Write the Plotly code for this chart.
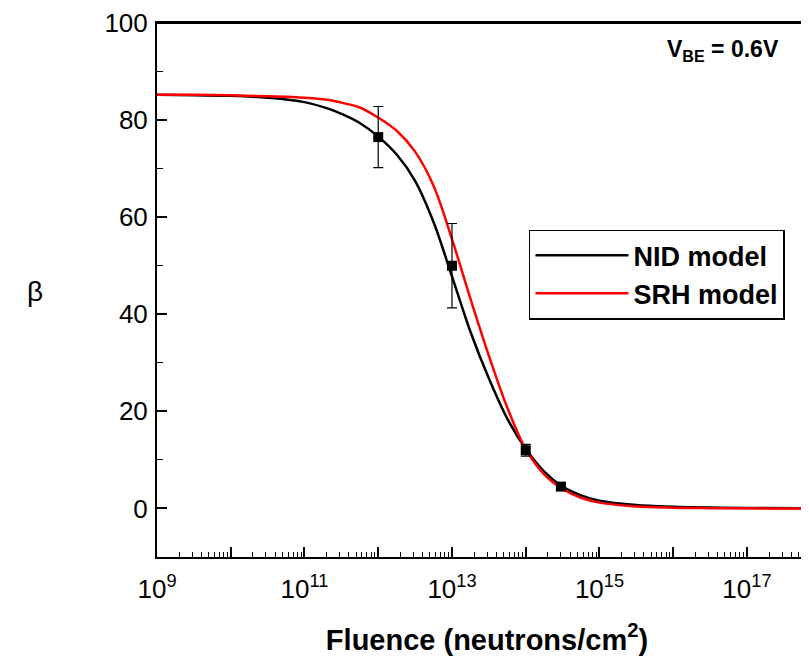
import plotly.graph_objects as go

# Model curves
nid_fluence = [1e9, 3.16e9, 1e10, 3.16e10, 1e11, 2.24e11, 3.16e11, 5.62e11, 1e12, 1.78e12,
               3.16e12, 5.62e12, 1e13, 1.78e13, 3.16e13, 5.62e13, 1e14, 1.78e14, 3.16e14,
               5.62e14, 1e15, 3.16e15, 1e16, 3.16e16, 1e17, 8.9e17]
nid_beta = [85.2, 85.1, 85.0, 84.6, 83.7, 82.2, 81.3, 79.4, 76.6, 72.9,
            67.5, 59.0, 47.8, 36.4, 26.8, 18.5, 12.3, 7.6, 4.5,
            2.7, 1.6, 0.7, 0.35, 0.18, 0.1, 0.05]

srh_fluence = [1e9, 3.16e9, 1e10, 3.16e10, 1e11, 2.24e11, 3.16e11, 5.62e11, 1e12, 1.78e12,
               3.16e12, 5.62e12, 1e13, 1.78e13, 3.16e13, 5.62e13, 1e14, 1.78e14, 3.16e14,
               5.62e14, 1e15, 3.16e15, 1e16, 3.16e16, 1e17, 8.9e17]
srh_beta = [85.2, 85.2, 85.1, 84.9, 84.6, 84.1, 83.6, 82.6, 80.5, 77.8,
            73.5, 66.5, 55.5, 43.2, 31.5, 20.8, 12.2, 7.0, 4.0,
            2.2, 1.2, 0.4, 0.15, 0.06, 0.02, 0.0]

# Measured points
meas_fluence = [1e12, 1e13, 1e14, 3e14]
meas_beta = [76.5, 50.0, 12.0, 4.5]
meas_err = [6.3, 8.7, 1.2, 0.5]

# Axis ticks
decades = list(range(9, 19))
major_vals = [10.0 ** d for d in decades]
major_text = [f"10<sup>{d}</sup>" if d % 2 == 1 else "" for d in decades]
minor_vals = [m * 10.0 ** d for d in decades for m in range(2, 10)]
y_ticks = [0, 20, 40, 60, 80, 100]

fig = go.Figure()
fig.add_trace(go.Scatter(x=nid_fluence, y=nid_beta, mode="lines", name="<b>NID model</b>",
                         line=dict(color="black", width=2.5, shape="spline")))
fig.add_trace(go.Scatter(x=srh_fluence, y=srh_beta, mode="lines", name="<b>SRH model</b>",
                         line=dict(color="#ff0000", width=2.5, shape="spline")))
fig.add_trace(go.Scatter(x=meas_fluence, y=meas_beta, mode="markers", showlegend=False,
                         marker=dict(symbol="square", size=10, color="black"),
                         error_y=dict(type="data", array=meas_err, color="black",
                                      thickness=1.2, width=5)))

fig.update_layout(
    width=809, height=663,
    margin=dict(l=149, r=0, t=12, b=114),
    plot_bgcolor="white", paper_bgcolor="white",
    font=dict(family="Liberation Sans, Arial, sans-serif", size=26, color="black"),
    xaxis=dict(type="log", range=[9, 17.95], tickmode="array", tickvals=major_vals,
               ticktext=major_text, ticks="inside", ticklen=10, tickwidth=1.5,
               tickcolor="black", showline=True, linewidth=2, linecolor="black",
               mirror=True, showgrid=False, zeroline=False, ticklabelstandoff=8,
               ticklabeloverflow="allow",
               minor=dict(tickvals=minor_vals, ticks="inside", ticklen=5, tickwidth=1,
                          tickcolor="black", showgrid=False),
               title=dict(text="<b>Fluence (neutrons/cm<sup>2</sup>)</b>",
                          font=dict(size=29), standoff=26)),
    yaxis=dict(range=[-10, 100], tickmode="array", tickvals=y_ticks, ticks="inside",
               ticklen=10, tickwidth=1.5, tickcolor="black", showline=True, linewidth=2,
               linecolor="black", mirror=False, showgrid=False, zeroline=False,
               ticklabelstandoff=2, ticklabeloverflow="allow",
               minor=dict(dtick=10, ticks="inside", ticklen=6, tickwidth=1,
                          tickcolor="black", showgrid=False)),
    legend=dict(x=0.5636, y=0.613, xanchor="left", yanchor="top", bgcolor="white",
                bordercolor="black", borderwidth=1.5, font=dict(size=27),
                itemwidth=93, tracegroupgap=0),
    showlegend=True,
)

# top frame line of the plot area
fig.add_shape(type="line", xref="paper", yref="paper", x0=0, x1=1, y0=1, y1=1,
              line=dict(color="black", width=2), layer="above")

fig.add_annotation(text="β", xref="paper", yref="paper", x=-0.185, y=0.497,
                   showarrow=False, font=dict(size=28), xanchor="center", yanchor="middle")
fig.add_annotation(text="<b>V<sub>BE</sub> = 0.6V</b>", xref="paper", yref="paper",
                   x=0.945, y=0.948, showarrow=False, font=dict(size=23),
                   xanchor="right", yanchor="middle")

fig.write_html("out.html")
